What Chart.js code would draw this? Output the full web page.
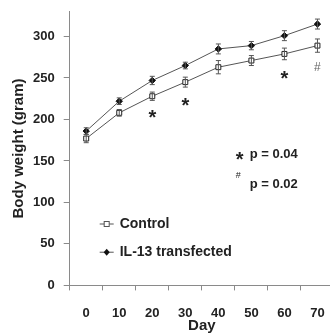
<!DOCTYPE html>
<html>
<head>
<meta charset="utf-8">
<script src="https://cdn.jsdelivr.net/npm/chart.js@4"></script>
<style>
  html, body { margin: 0; padding: 0; background: #fff; overflow: hidden; }
  #wrap { width: 340px; height: 333px; position: relative; }
</style>
</head>
<body>
<div id="wrap"><canvas id="chart"></canvas></div>
<script>
// data
const days = ['0', '10', '20', '30', '40', '50', '60', '70'];
const controlWeight = [177, 208, 228, 245, 263, 271, 279, 289];
const controlErr = [5, 4, 5, 6, 8, 6, 7, 8];
const il13Weight = [186, 222, 247, 265, 285, 289, 301, 315];
const il13Err = [4, 4, 5, 4, 6, 5, 6, 6];
// significance marks: index into days, symbol, y value
const sigIndex = [2, 3, 6, 7];
const sigSymbol = ['*', '*', '*', '#'];
const sigValue = [206, 220, 253, 262];
const legendLabels = ['Control', 'IL-13 transfected'];

const lineColor = '#555';
const axisColor = '#8a8a8a';
const textColor = '#222';
const fontFam = '"Liberation Sans", Arial, sans-serif';

// error bars + annotations
const extras = {
  id: 'extras',
  afterDatasetsDraw(chart) {
    const ctx = chart.ctx;
    const x = chart.scales.x, y = chart.scales.y;
    const errs = [controlErr, il13Err];
    ctx.save();
    ctx.strokeStyle = lineColor;
    ctx.lineWidth = 1;
    chart.data.datasets.forEach((ds, di) => {
      ds.data.forEach((v, i) => {
        const px = x.getPixelForValue(i);
        const top = y.getPixelForValue(v + errs[di][i]);
        const bot = y.getPixelForValue(v - errs[di][i]);
        ctx.beginPath();
        ctx.moveTo(px, top); ctx.lineTo(px, bot);
        ctx.moveTo(px - 2.5, top); ctx.lineTo(px + 2.5, top);
        ctx.moveTo(px - 2.5, bot); ctx.lineTo(px + 2.5, bot);
        ctx.stroke();
      });
    });
    ctx.restore();
  },
  afterDraw(chart) {
    const ctx = chart.ctx;
    const x = chart.scales.x, y = chart.scales.y;
    const area = chart.chartArea;
    ctx.save();
    ctx.fillStyle = textColor;
    ctx.textAlign = 'center';
    ctx.textBaseline = 'middle';
    sigIndex.forEach((idx, k) => {
      const px = x.getPixelForValue(idx);
      const py = y.getPixelForValue(sigValue[k]);
      if (sigSymbol[k] === '*') {
        ctx.font = 'bold 20px ' + fontFam;
        ctx.fillText('*', px, py + 4);
      } else {
        ctx.font = '12px ' + fontFam;
        ctx.fillStyle = '#666';
        ctx.fillText('#', px, py);
        ctx.fillStyle = textColor;
      }
    });
    // p-value notes
    ctx.textAlign = 'left';
    ctx.font = 'bold 20px ' + fontFam;
    ctx.fillText('*', area.left + 166, y.getPixelForValue(158) + 6);
    ctx.font = 'bold 13px ' + fontFam;
    ctx.fillText('p = 0.04', area.left + 180, y.getPixelForValue(158));
    ctx.font = '9px ' + fontFam;
    ctx.fillText('#', area.left + 166, y.getPixelForValue(133));
    ctx.font = 'bold 13px ' + fontFam;
    ctx.fillText('p = 0.02', area.left + 180, y.getPixelForValue(122));
    // legend
    const rows = [y.getPixelForValue(74), y.getPixelForValue(40)];
    rows.forEach((ry, k) => {
      const lx = area.left + 30;
      ctx.strokeStyle = lineColor;
      ctx.lineWidth = 1;
      ctx.beginPath();
      ctx.moveTo(lx, ry); ctx.lineTo(lx + 14, ry);
      ctx.stroke();
      if (k === 0) {
        ctx.fillStyle = '#fff';
        ctx.fillRect(lx + 4.5, ry - 2.5, 5, 5);
        ctx.strokeRect(lx + 4.5, ry - 2.5, 5, 5);
      } else {
        ctx.fillStyle = '#111';
        ctx.beginPath();
        ctx.moveTo(lx + 7, ry - 3.5); ctx.lineTo(lx + 10, ry);
        ctx.lineTo(lx + 7, ry + 3.5); ctx.lineTo(lx + 4, ry);
        ctx.closePath(); ctx.fill();
      }
      ctx.fillStyle = textColor;
      ctx.font = 'bold 14px ' + fontFam;
      ctx.fillText(legendLabels[k], lx + 20, ry);
    });
    ctx.restore();
  }
};

new Chart(document.getElementById('chart'), {
  type: 'line',
  data: {
    labels: days,
    datasets: [{
      label: legendLabels[0],
      data: controlWeight,
      borderColor: lineColor,
      borderWidth: 1,
      pointStyle: 'rect',
      pointRadius: 3.5,
      pointBackgroundColor: '#fff',
      pointBorderColor: '#222',
      pointBorderWidth: 1,
    }, {
      label: legendLabels[1],
      data: il13Weight,
      borderColor: lineColor,
      borderWidth: 1,
      pointStyle: 'rectRot',
      pointRadius: 3.2,
      pointBackgroundColor: '#111',
      pointBorderColor: '#111',
      pointBorderWidth: 1,
    }],
  },
  options: {
    responsive: true,
    maintainAspectRatio: false,
    animation: false,
    layout: { padding: { left: 10, right: 0, top: 9, bottom: -2 } },
    plugins: { legend: { display: false }, tooltip: { enabled: false } },
    scales: {
      x: {
        offset: true,
        grid: { offset: true, drawOnChartArea: false, color: axisColor, tickLength: 5 },
        border: { color: axisColor },
        ticks: { color: textColor, font: { family: fontFam, size: 13, weight: 'bold' }, padding: 15 },
        title: { display: true, text: 'Day', color: textColor, padding: { top: -19, bottom: 0 },
          font: { family: fontFam, size: 15, weight: 'bold' } },
      },
      y: {
        min: 0,
        max: 330,
        afterBuildTicks(scale) { scale.ticks = scale.ticks.filter(t => t.value % 50 === 0); },
        grid: { drawOnChartArea: false, color: axisColor, tickLength: 6 },
        border: { color: axisColor },
        ticks: { stepSize: 50, color: textColor, font: { family: fontFam, size: 13, weight: 'bold', lineHeight: 0.4 }, padding: 9 },
        title: { display: true, text: 'Body weight (gram)', color: textColor, padding: { top: 0, bottom: -4 },
          font: { family: fontFam, size: 15, weight: 'bold' } },
      },
    },
  },
  plugins: [extras],
});
</script>
</body>
</html>
